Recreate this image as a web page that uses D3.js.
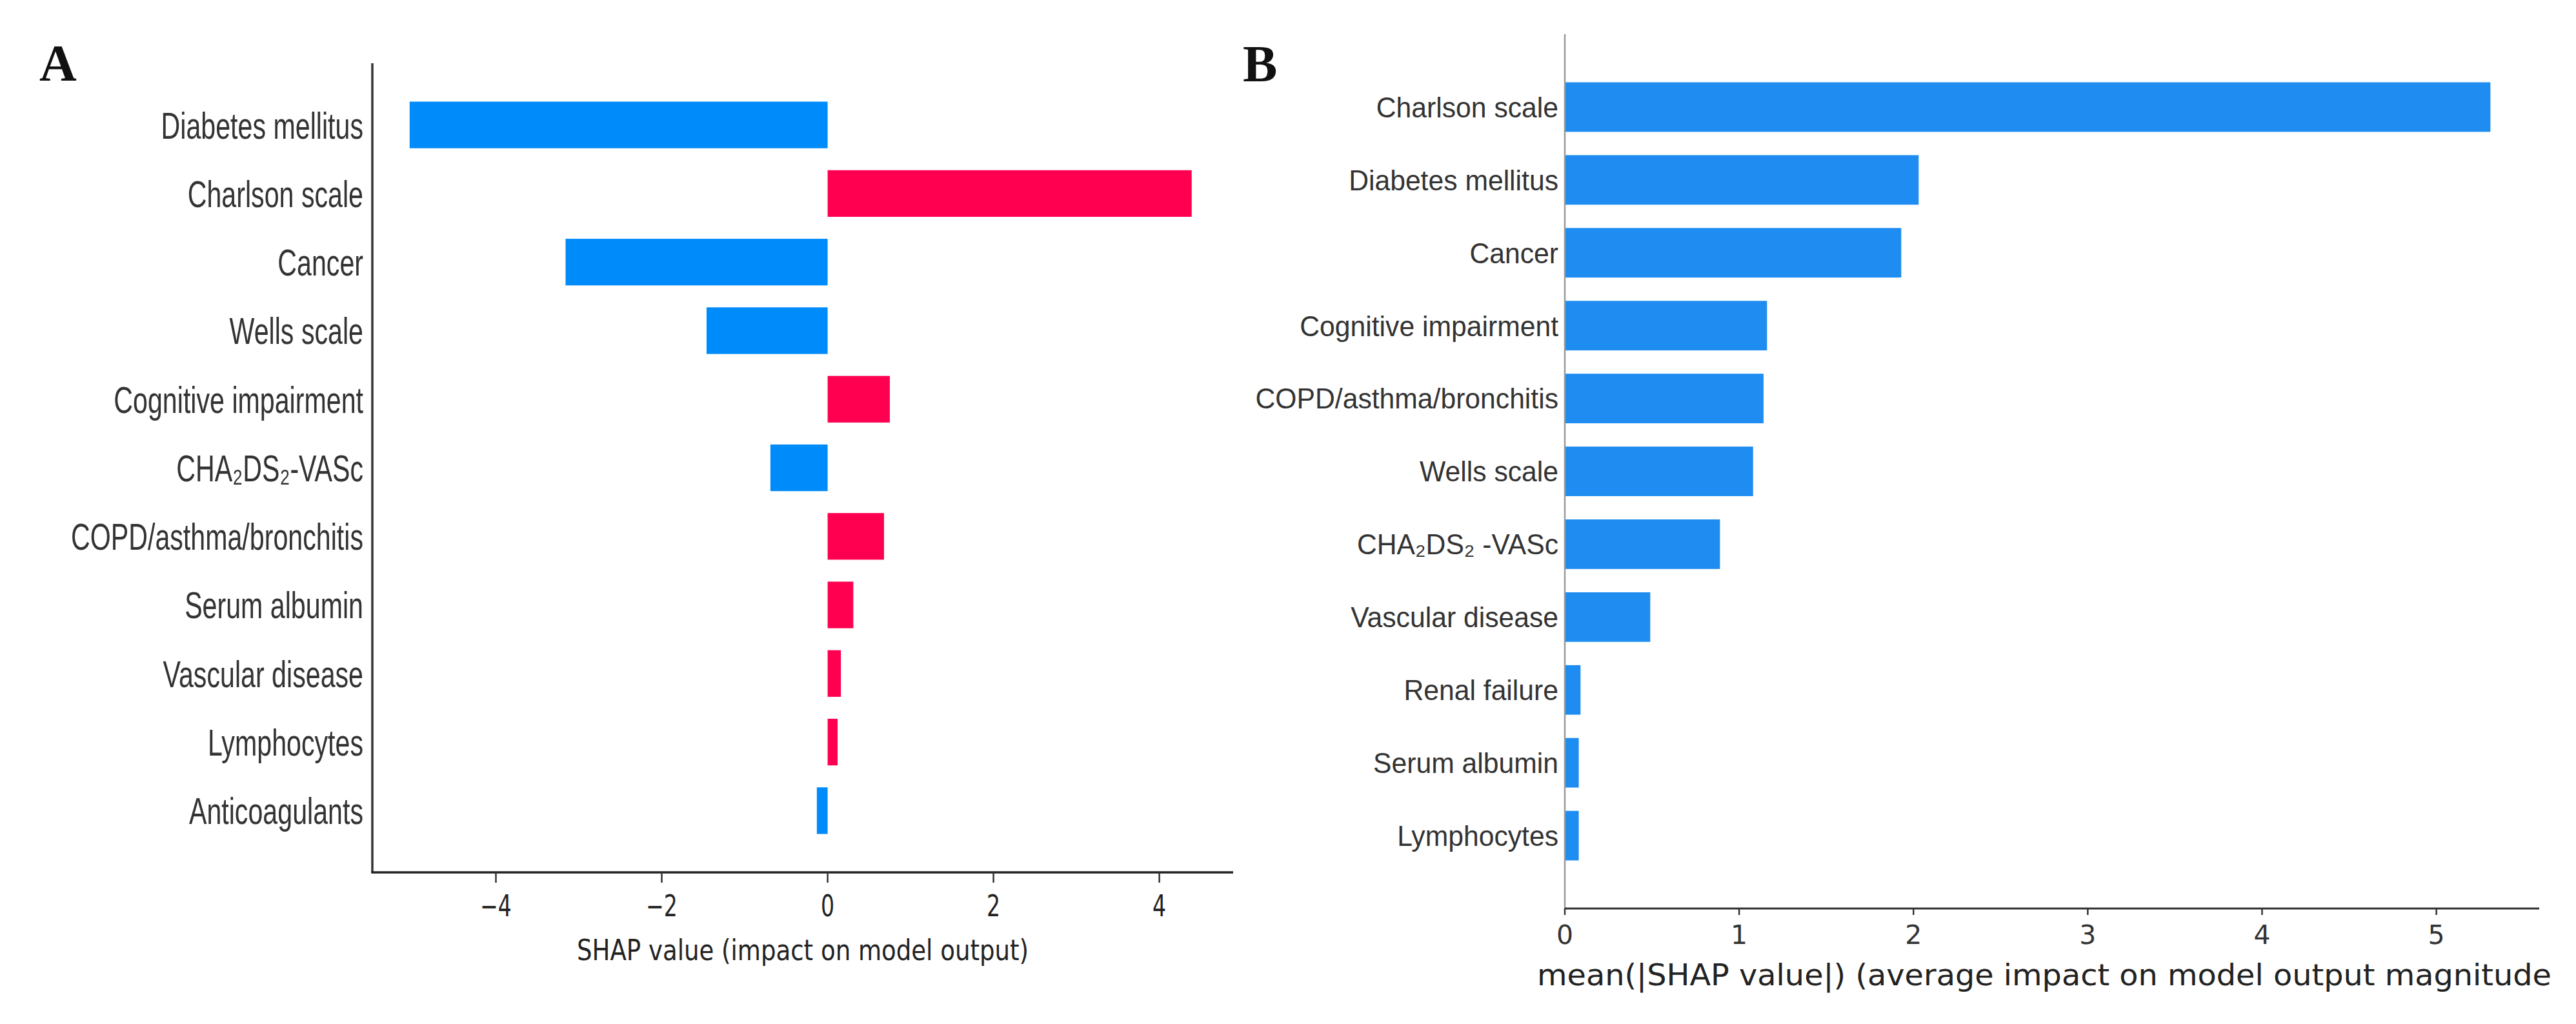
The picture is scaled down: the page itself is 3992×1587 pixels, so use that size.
<!DOCTYPE html>
<html>
<head>
<meta charset="utf-8">
<script src="https://cdn.jsdelivr.net/npm/d3@7"></script>
<style>
  html, body { margin: 0; padding: 0; background: #fff; }
  svg { display: block; }
</style>
</head>
<body>
<svg id="chart" width="3992" height="1587"></svg>
<script>
// ---- Data ----
const featuresA = ["Diabetes mellitus", "Charlson scale", "Cancer", "Wells scale", "Cognitive impairment",
  "CHA\u2082DS\u2082-VASc", "COPD/asthma/bronchitis", "Serum albumin", "Vascular disease", "Lymphocytes", "Anticoagulants"];
const valuesA = [-5.04, 4.39, -3.16, -1.46, 0.75, -0.69, 0.68, 0.31, 0.16, 0.12, -0.13];
const ticksA = [-4, -2, 0, 2, 4];
const xLabelA = "SHAP value (impact on model output)";

const featuresB = ["Charlson scale", "Diabetes mellitus", "Cancer", "Cognitive impairment", "COPD/asthma/bronchitis",
  "Wells scale", "CHA\u2082DS\u2082 -VASc", "Vascular disease", "Renal failure", "Serum albumin", "Lymphocytes"];
const valuesB = [5.31, 2.03, 1.93, 1.16, 1.14, 1.08, 0.89, 0.49, 0.09, 0.08, 0.08];
const ticksB = [0, 1, 2, 3, 4, 5];
const xLabelB = "mean(|SHAP value|) (average impact on model output magnitude";

const svg = d3.select("#chart");
const fmtMinus = d => (d < 0 ? "\u2212" + Math.abs(d) : String(d));

// ---- Panel A ----
(function () {
  const left = 577, right = 1911, top = 98, bottom = 1352;
  const x = d3.scaleLinear().domain([-5.49, 4.89]).range([left, right]);
  const y = d3.scaleLinear().domain([-0.9, featuresA.length - 0.1]).range([top, bottom]);
  const bh = 0.68 * (y(1) - y(0));
  const g = svg.append("g");

  g.selectAll("rect.bar").data(valuesA).join("rect")
    .attr("class", "bar")
    .attr("x", d => Math.min(x(0), x(d)))
    .attr("width", d => Math.abs(x(d) - x(0)))
    .attr("y", (d, i) => y(i) - bh / 2)
    .attr("height", bh)
    .attr("fill", d => d < 0 ? "#008bfb" : "#ff0051");

  g.selectAll("g.ylab").data(featuresA).join("g")
    .attr("class", "ylab")
    .attr("transform", (d, i) => `translate(${left - 14},${y(i)}) scale(0.71,1)`)
    .append("text")
    .attr("text-anchor", "end")
    .attr("dy", "0.36em")
    .attr("font-family", "Liberation Sans, Arial, sans-serif")
    .attr("font-size", 58)
    .attr("fill", "#333")
    .text(d => d);

  g.append("line").attr("x1", left).attr("x2", left).attr("y1", top).attr("y2", bottom)
    .attr("stroke", "#333").attr("stroke-width", 3.5);
  g.append("line").attr("x1", left - 1.75).attr("x2", right).attr("y1", bottom).attr("y2", bottom)
    .attr("stroke", "#222").attr("stroke-width", 3.5);

  const tk = g.selectAll("g.tick").data(ticksA).join("g")
    .attr("class", "tick")
    .attr("transform", d => `translate(${x(d)},${bottom})`);
  tk.append("line").attr("y1", 0).attr("y2", 16).attr("stroke", "#333").attr("stroke-width", 2.5);
  tk.append("g").attr("transform", "translate(0,68) scale(0.72,1)")
    .append("text")
    .attr("text-anchor", "middle")
    .attr("font-family", "DejaVu Sans, sans-serif")
    .attr("font-size", 46)
    .attr("fill", "#222")
    .text(d => fmtMinus(d));

  g.append("text")
    .attr("x", (left + right) / 2).attr("y", 1488)
    .attr("text-anchor", "middle")
    .attr("font-family", "DejaVu Sans, sans-serif")
    .attr("font-size", 45)
    .attr("fill", "#222")
    .attr("textLength", 700).attr("lengthAdjust", "spacingAndGlyphs")
    .text(xLabelA);

  svg.append("text").attr("x", 61).attr("y", 125)
    .attr("font-family", "Liberation Serif, Times New Roman, serif")
    .attr("font-weight", "bold").attr("font-size", 80).attr("fill", "#111")
    .text("A");
})();

// ---- Panel B ----
(function () {
  const left = 2425, right = 3935, top = 53, bottom = 1408;
  const x = d3.scaleLinear().domain([0, 5.59]).range([left, right]);
  const y = d3.scaleLinear().domain([-1, featuresB.length]).range([top, bottom]);
  const bh = 0.68 * (y(1) - y(0));
  const g = svg.append("g");

  g.selectAll("rect.bar").data(valuesB).join("rect")
    .attr("class", "bar")
    .attr("x", x(0))
    .attr("width", d => x(d) - x(0))
    .attr("y", (d, i) => y(i) - bh / 2)
    .attr("height", bh)
    .attr("fill", "#1e8cf0");

  g.selectAll("g.ylab").data(featuresB).join("g")
    .attr("class", "ylab")
    .attr("transform", (d, i) => `translate(${left - 10},${y(i)}) scale(0.97,1)`)
    .append("text")
    .attr("text-anchor", "end")
    .attr("dy", "0.36em")
    .attr("font-family", "Liberation Sans, Arial, sans-serif")
    .attr("font-size", 44)
    .attr("fill", "#333")
    .text(d => d);

  g.append("line").attr("x1", left).attr("x2", left).attr("y1", top).attr("y2", bottom)
    .attr("stroke", "#999").attr("stroke-width", 2.5);
  g.append("line").attr("x1", left).attr("x2", right).attr("y1", bottom).attr("y2", bottom)
    .attr("stroke", "#333").attr("stroke-width", 3);

  const tk = g.selectAll("g.tick").data(ticksB).join("g")
    .attr("class", "tick")
    .attr("transform", d => `translate(${x(d)},${bottom})`);
  tk.append("line").attr("y1", 0).attr("y2", 10).attr("stroke", "#333").attr("stroke-width", 2.5);
  tk.append("text")
    .attr("y", 55)
    .attr("text-anchor", "middle")
    .attr("font-family", "DejaVu Sans, sans-serif")
    .attr("font-size", 41)
    .attr("fill", "#333")
    .text(d => d);

  g.append("text")
    .attr("x", 2382).attr("y", 1527)
    .attr("font-family", "DejaVu Sans, sans-serif")
    .attr("font-size", 47)
    .attr("fill", "#222")
    .attr("textLength", 1572).attr("lengthAdjust", "spacingAndGlyphs")
    .text(xLabelB);

  svg.append("text").attr("x", 1926).attr("y", 126)
    .attr("font-family", "Liberation Serif, Times New Roman, serif")
    .attr("font-weight", "bold").attr("font-size", 80).attr("fill", "#111")
    .text("B");
})();
</script>
</body>
</html>
